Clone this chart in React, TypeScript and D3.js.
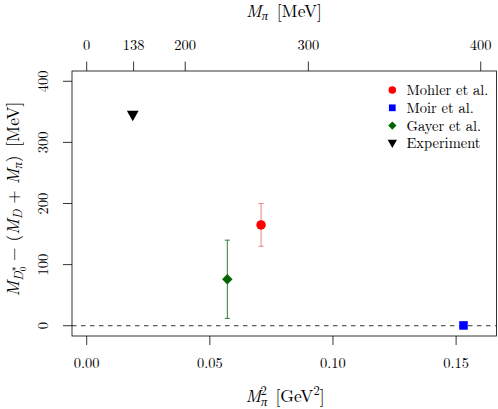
import React from "react";
import * as d3 from "d3";

const series = ["Mohler et al.", "Moir et al.", "Gayer et al.", "Experiment"];
const seriesColors = ["#ff0000", "#0000ff", "#006400", "#000000"];
const seriesShapes = ["circle", "square", "diamond", "triangle"];
const xValues = [0.0708, 0.153, 0.0571, 0.0187];
const yValues = [165, 0.5, 76, 344];
const yErrors = [35, 0, 64, 0];
const errColors = ["#f08080", "none", "#2e7d32", "none"];

const bottomTicks = [0, 0.05, 0.1, 0.15];
const bottomTickLabels = ["0.00", "0.05", "0.10", "0.15"];
const topTicksMeV = [0, 138, 200, 300, 400];
const leftTicks = [0, 100, 200, 300, 400];

const W = 498;
const H = 409;
const box = { left: 72, right: 496.5, top: 71, bottom: 336 };
const FONT = '"Latin Modern Roman", "Liberation Serif", serif';

const x = d3.scaleLinear().domain([-0.00597, 0.1664]).range([box.left, box.right]);
const y = d3.scaleLinear().domain([-16.8, 416.8]).range([box.bottom, box.top]);

function marker(shape: string, cx: number, cy: number, s: number, color: string, key?: string) {
  if (shape === "circle") return <circle key={key} cx={cx} cy={cy} r={s * 0.5} fill={color} />;
  if (shape === "square")
    return <rect key={key} x={cx - s * 0.45} y={cy - s * 0.45} width={s * 0.9} height={s * 0.9} fill={color} />;
  if (shape === "diamond") {
    const r = s * 0.55;
    return <path key={key} d={`M${cx},${cy - r}L${cx + r},${cy}L${cx},${cy + r}L${cx - r},${cy}Z`} fill={color} />;
  }
  const h = s * 1.1;
  const w = s * 0.62;
  return (
    <path
      key={key}
      d={`M${cx - w},${cy - h * 0.45}L${cx + w},${cy - h * 0.45}L${cx},${cy + h * 0.55}Z`}
      fill={color}
    />
  );
}

export default function App() {
  const y0 = y(0);
  return (
    <svg width={W} height={H} style={{ position: "absolute", left: 0, top: 0, background: "#fff", fontFamily: FONT }}>
      {/* zero line */}
      <line x1={box.left} x2={box.right} y1={y0} y2={y0} stroke="#000" strokeWidth={0.8} strokeDasharray="4.5,4.5" />
      {/* error bars */}
      {xValues.map((xv, i) =>
        yErrors[i] > 0 ? (
          <g key={"e" + i} stroke={errColors[i]} strokeWidth={1}>
            <line x1={x(xv)} x2={x(xv)} y1={y(yValues[i] - yErrors[i])} y2={y(yValues[i] + yErrors[i])} />
            <line x1={x(xv) - 2.5} x2={x(xv) + 2.5} y1={y(yValues[i] - yErrors[i])} y2={y(yValues[i] - yErrors[i])} />
            <line x1={x(xv) - 2.5} x2={x(xv) + 2.5} y1={y(yValues[i] + yErrors[i])} y2={y(yValues[i] + yErrors[i])} />
          </g>
        ) : null
      )}
      {/* points */}
      {xValues.map((xv, i) => marker(seriesShapes[i], x(xv), y(yValues[i]), 9.5, seriesColors[i], "p" + i))}
      {/* box */}
      <rect
        x={box.left}
        y={box.top}
        width={box.right - box.left}
        height={box.bottom - box.top}
        fill="none"
        stroke="#000"
        strokeWidth={0.8}
      />
      {/* bottom axis */}
      {bottomTicks.map((t, i) => (
        <g key={"b" + i}>
          <line x1={x(t)} x2={x(t)} y1={box.bottom} y2={box.bottom + 9} stroke="#000" strokeWidth={0.8} />
          <text x={x(t)} y={368} fontSize={14.5} textAnchor="middle">
            {bottomTickLabels[i]}
          </text>
        </g>
      ))}
      {/* top axis */}
      {topTicksMeV.map((t, i) => {
        const px = x((t / 1000) * (t / 1000));
        return (
          <g key={"t" + i}>
            <line x1={px} x2={px} y1={box.top} y2={box.top - 9.5} stroke="#000" strokeWidth={0.8} />
            <text x={px} y={49.5} fontSize={14.5} textAnchor="middle">
              {t}
            </text>
          </g>
        );
      })}
      {/* left axis */}
      {leftTicks.map((t, i) => (
        <g key={"l" + i}>
          <line x1={box.left - 9} x2={box.left} y1={y(t)} y2={y(t)} stroke="#000" strokeWidth={0.8} />
          <text transform={`translate(48,${y(t)}) rotate(-90)`} fontSize={14.5} textAnchor="middle">
            {t}
          </text>
        </g>
      ))}
      {/* top title */}
      <text x={284} y={17} fontSize={17.5} textAnchor="middle">
        <tspan fontStyle="italic">M</tspan>
        <tspan fontStyle="italic" fontSize={12.5} dy={3}>π</tspan>
        <tspan dy={-3}>{"\u2002[MeV]"}</tspan>
      </text>
      {/* bottom title */}
      <text x={285} y={402} fontSize={17.5} textAnchor="middle">
        <tspan fontStyle="italic">M</tspan>
        <tspan fontStyle="italic" fontSize={12.5} dy={4}>π</tspan>
        <tspan fontSize={12.5} dx={-7} dy={-11}>2</tspan>
        <tspan dy={7}>{"\u2002[GeV"}</tspan>
        <tspan fontSize={12.5} dy={-7}>2</tspan>
        <tspan dy={7}>]</tspan>
      </text>
      {/* left title */}
      <text transform="translate(18.5,199) rotate(-90)" fontSize={17.5} textAnchor="middle">
        <tspan fontStyle="italic">M</tspan>
        <tspan fontStyle="italic" fontSize={12.5} dy={4}>D</tspan>
        <tspan fontSize={9} dy={3}>0</tspan>
        <tspan fontSize={9} dx={-4.5} dy={-10}>∗</tspan>
        <tspan dy={3}>{" \u2212 ("}</tspan>
        <tspan fontStyle="italic">M</tspan>
        <tspan fontStyle="italic" fontSize={12.5} dy={3.5}>D</tspan>
        <tspan dy={-3.5}>{" + "}</tspan>
        <tspan fontStyle="italic">M</tspan>
        <tspan fontStyle="italic" fontSize={12.5} dy={3.5}>π</tspan>
        <tspan dy={-3.5}>{")\u2002[MeV]"}</tspan>
      </text>
      {/* legend */}
      {series.map((s, i) => {
        const ly = 90 + i * 17.8;
        return (
          <g key={"lg" + i}>
            {marker(seriesShapes[i], 392.3, ly, 7.5, seriesColors[i])}
            <text x={406.5} y={ly + 5} fontSize={14.5}>
              {s}
            </text>
          </g>
        );
      })}
    </svg>
  );
}
